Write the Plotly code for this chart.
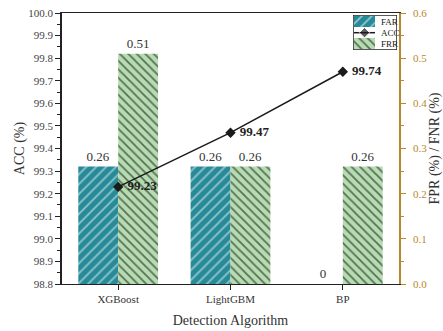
import plotly.graph_objects as go

categories = ["XGBoost", "LightGBM", "BP"]
far_values = [0.26, 0.26, 0.0]
frr_values = [0.51, 0.26, 0.26]
acc_values = [99.23, 99.47, 99.74]
far_labels = ["0.26", "0.26", "0"]
frr_labels = ["0.51", "0.26", "0.26"]
acc_labels = ["99.23", "99.47", "99.74"]
legend_names = ["FAR", "ACC", "FRR"]

FONT = "Liberation Serif"
GOLD = "#B8882C"
TEAL = "#268A98"
GREEN = "#B6DDB1"
INK = "#1a1a1a"

PW, PH = 337, 271  # plot area size in px

far_pattern = dict(shape="/", fgcolor="white", bgcolor=TEAL, size=7, solidity=0.25)
frr_pattern = dict(shape="\\", fgcolor="#000", bgcolor=GREEN, size=6, solidity=0.3)

fig = go.Figure()
fig.add_trace(go.Bar(
    x=categories, y=far_values, name="FAR", yaxis="y",
    marker=dict(color=TEAL, line=dict(width=0), pattern=far_pattern),
    text=far_labels, textposition="outside", cliponaxis=False,
    textfont=dict(family=FONT, size=13, color="#333"),
    showlegend=False,
))
fig.add_trace(go.Bar(
    x=categories, y=frr_values, name="FRR", yaxis="y",
    marker=dict(color=GREEN, line=dict(width=0), pattern=frr_pattern),
    text=frr_labels, textposition="outside", cliponaxis=False,
    textfont=dict(family=FONT, size=13, color="#333"),
    showlegend=False,
))
fig.add_trace(go.Scatter(
    x=categories, y=acc_values, name="ACC", yaxis="y2",
    mode="lines+markers+text",
    line=dict(color=INK, width=1.5),
    marker=dict(symbol="diamond", size=8, color=INK),
    text=[" " + t for t in acc_labels], textposition="middle right",
    textfont=dict(family=FONT, size=13, color="#222", weight="bold"),
    cliponaxis=False, showlegend=False,
))

# ---- compact legend (own mini axes, pixel-like units) ----
fig.add_trace(go.Bar(
    x=[11.5], y=[11], base=[23], width=[21], offset=-10.5,
    xaxis="x3", yaxis="y3", marker=dict(color=TEAL, line=dict(width=0), pattern=far_pattern),
    showlegend=False, hoverinfo="skip",
))
fig.add_trace(go.Bar(
    x=[11.5], y=[11], base=[1], width=[21], offset=-10.5,
    xaxis="x3", yaxis="y3", marker=dict(color=GREEN, line=dict(width=0), pattern=frr_pattern),
    showlegend=False, hoverinfo="skip",
))
fig.add_trace(go.Scatter(
    x=[1, 11.5, 22], y=[17.3, 17.3, 17.3], xaxis="x3", yaxis="y3",
    mode="lines+markers", line=dict(color=INK, width=1.5),
    marker=dict(symbol="diamond", size=[0, 8, 0], color=INK),
    showlegend=False, hoverinfo="skip",
))
for name, yy in zip(legend_names, [28.5, 17.3, 6.5]):
    fig.add_annotation(x=25.5, y=yy, xref="x3", yref="y3", text=name, showarrow=False,
                       xanchor="left", yanchor="middle",
                       font=dict(family=FONT, size=9, color="#222"))
fig.add_shape(type="rect", xref="x3", yref="y3", x0=0, x1=44, y0=0, y1=35,
              line=dict(color="#222", width=1.5), layer="above")

fig.update_layout(
    width=443, height=331,
    margin=dict(l=62, r=44, t=13, b=47, autoexpand=False),
    paper_bgcolor="white", plot_bgcolor="white",
    barmode="group", bargap=0.29, bargroupgap=0,
    font=dict(family=FONT, size=11, color="#333"),
    showlegend=False,
    xaxis=dict(
        range=[-0.5, 2.5], showline=True, linecolor="#222", linewidth=1.2,
        mirror=True, ticks="outside", ticklen=5, tickcolor="#222",
        showgrid=False, zeroline=False, automargin=False,
        tickfont=dict(family=FONT, size=11, color="#333"),
        title=dict(text="Detection Algorithm", font=dict(family=FONT, size=14, color="#333"), standoff=10),
    ),
    yaxis=dict(
        side="right", range=[0, 0.6], dtick=0.1, tickformat=".1f",
        showline=True, linecolor=GOLD, linewidth=1.5,
        ticks="outside", ticklen=5, tickcolor=GOLD,
        minor=dict(ticks="outside", ticklen=3, dtick=0.05, tickcolor=GOLD),
        showgrid=False, zeroline=False, automargin=False,
        ticklabelstandoff=5,
        tickfont=dict(family=FONT, size=11, color=GOLD),
        title=dict(text="FPR (%) / FNR (%)", font=dict(family=FONT, size=14, color="#333"), standoff=6),
    ),
    yaxis2=dict(
        side="left", overlaying="y", range=[98.8, 100.0], dtick=0.1, tickformat=".1f",
        showline=True, linecolor="#222", linewidth=1.5,
        ticks="outside", ticklen=5, tickcolor="#222",
        minor=dict(ticks="outside", ticklen=3, dtick=0.05, tickcolor="#222"),
        showgrid=False, zeroline=False, automargin=False,
        tickfont=dict(family=FONT, size=11, color="#444"),
        title=dict(text="ACC (%)", font=dict(family=FONT, size=14, color="#333"), standoff=0),
    ),
    xaxis3=dict(domain=[291 / PW, 335 / PW], range=[0, 44], visible=False, fixedrange=True,
                anchor="y3"),
    yaxis3=dict(domain=[234 / PH, 269 / PH], range=[0, 35], visible=False,
                fixedrange=True, anchor="x3"),
)

fig.write_html("out.html", config={"displayModeBar": False},
               post_script="document.body.style.margin='0';")
